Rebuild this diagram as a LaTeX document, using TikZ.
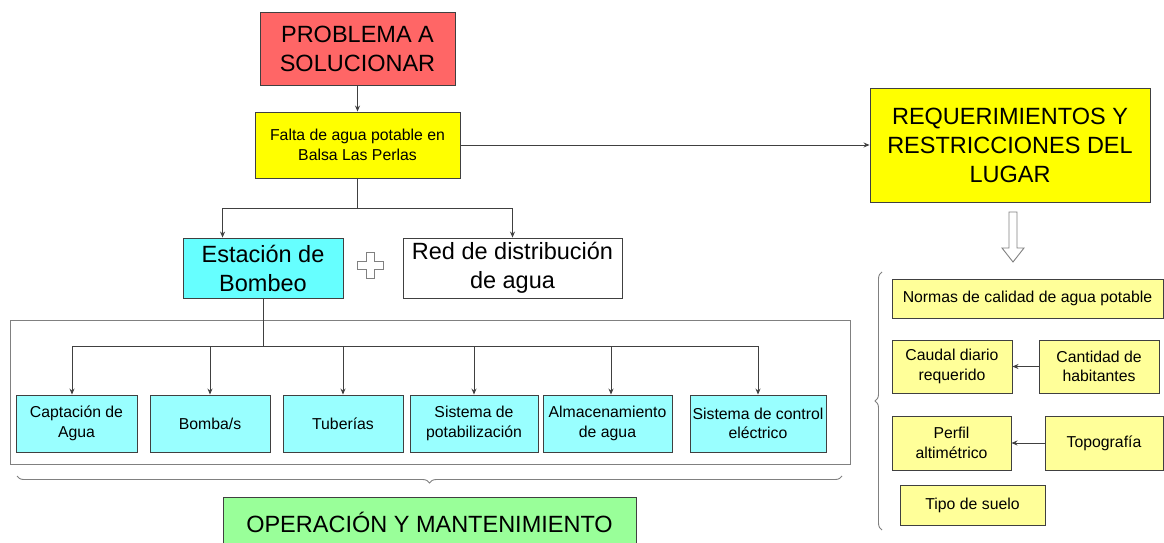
\documentclass[tikz,border=0pt]{standalone}
\usepackage{fontspec}
\setmainfont{Liberation Sans}
\usetikzlibrary{arrows.meta,decorations.pathreplacing,calc}
\definecolor{cRed}{HTML}{FF6666}
\definecolor{cYel}{HTML}{FFFF00}
\definecolor{cCyan}{HTML}{66FFFF}
\definecolor{cCyanL}{HTML}{99FFFF}
\definecolor{cYelL}{HTML}{FFFF99}
\definecolor{cGreen}{HTML}{99FF99}
\definecolor{cBorder}{HTML}{404040}
\definecolor{cLine}{HTML}{404040}
\definecolor{cFrame}{HTML}{808080}
\tikzset{
  box/.style={draw=cBorder, line width=0.9pt, inner sep=0pt, align=center, text=black},
  bigtxt/.style={font=\fontsize{23.5}{29}\selectfont},
  smalltxt/.style={font=\fontsize{15.8}{19.5}\selectfont},
  conn/.style={draw=cLine, line width=0.9pt},
  arr/.style={conn, -{Stealth[length=6pt,width=5pt]}},
  bracestyle/.style={draw=cFrame, line width=0.9pt, decorate},
}
\begin{document}
\begin{tikzpicture}[x=1pt,y=-1pt]
\useasboundingbox (0,0) rectangle (1164,543);
% frame
\node[draw=cFrame, line width=0.9pt, minimum width=840, minimum height=144, inner sep=0pt] (frame) at (430,392) {};
% main column
\node[box, bigtxt, fill=cRed, minimum width=195, minimum height=73] (prob) at (357.5,48.5) {PROBLEMA A\\SOLUCIONAR};
\node[box, smalltxt, fill=cYel, minimum width=205, minimum height=66] (falta) at (357.5,145) {Falta de agua potable en\\Balsa Las Perlas};
\node[box, bigtxt, fill=cCyan, minimum width=160, minimum height=60] (est) at (263,268) {Estación de\\Bombeo};
\node[box, bigtxt, fill=white, minimum width=219, minimum height=60] (red) at (512.5,268) {Red de distribución\\de agua};
\node[box, bigtxt, fill=cYel, minimum width=280, minimum height=114] (req) at (1010,145) {REQUERIMIENTOS Y\\RESTRICCIONES DEL\\LUGAR};
% right panel
\node[box, smalltxt, fill=cYelL, minimum width=271, minimum height=39] (normas) at (1027.5,298.5) {Normas de calidad de agua potable};
\node[box, smalltxt, fill=cYelL, minimum width=120, minimum height=53] (caudal) at (952,366.5) {Caudal diario\\requerido};
\node[box, smalltxt, fill=cYelL, minimum width=120, minimum height=53] (cant) at (1099,366.5) {Cantidad de\\habitantes};
\node[box, smalltxt, fill=cYelL, minimum width=119, minimum height=54] (perfil) at (951.5,443) {Perfil\\altimétrico};
\node[box, smalltxt, fill=cYelL, minimum width=118, minimum height=54] (topo) at (1104,443) {Topografía};
\node[box, smalltxt, fill=cYelL, minimum width=145, minimum height=40] (tipo) at (972.5,505) {Tipo de suelo};
% components
\node[box, smalltxt, fill=cCyanL, minimum width=121, minimum height=57] (c1) at (76.5,423.5) {Captación de\\Agua};
\node[box, smalltxt, fill=cCyanL, minimum width=120, minimum height=57] (c2) at (210,423.5) {Bomba/s};
\node[box, smalltxt, fill=cCyanL, minimum width=120, minimum height=57] (c3) at (343,423.5) {Tuberías};
\node[box, smalltxt, fill=cCyanL, minimum width=128, minimum height=57] (c4) at (474,423.5) {Sistema de\\potabilización};
\node[box, smalltxt, fill=cCyanL, minimum width=129, minimum height=57] (c5) at (607.5,423.5) {Almacenamiento\\de agua};
\node[box, smalltxt, fill=cCyanL, minimum width=136, minimum height=57] (c6) at (758,423.5) {Sistema de control\\eléctrico};
\node[box, bigtxt, fill=cGreen, minimum width=413, minimum height=50] (oper) at (429.5,522) {OPERACIÓN Y MANTENIMIENTO};
% connectors
\draw[arr] (prob.south) -- (falta.north);
\draw[conn] (falta.south) -- ++(0,30) coordinate (split);
\draw[arr] (split) -| ([xshift=40]est.north west);
\draw[arr] (split) -| (red.north);
\draw[arr] (falta.east) -- (req.west);
\draw[conn] (est.south) -- ++(0,48) coordinate (hub);
\draw[arr] (hub) -| ([xshift=-4.5]c1.north);
\draw[arr] (hub) -| (c2.north);
\draw[arr] (hub) -| (c3.north);
\draw[arr] (hub) -| (c4.north);
\draw[arr] (hub) -| ([xshift=3.5]c5.north);
\draw[arr] (hub) -| (c6.north);
\draw[arr] (cant.west) -- (caudal.east);
\draw[arr] (topo.west) -- (perfil.east);
% plus sign
\draw[cFrame, line width=0.9pt, fill=white] (366,252) -- (374,252) -- (374,261) -- (383,261) -- (383,269) -- (374,269) -- (374,278) -- (366,278) -- (366,269) -- (357,269) -- (357,261) -- (366,261) -- cycle;
% hollow arrow
\draw[cFrame, line width=0.9pt, fill=white] (1009,212) -- (1017,212) -- (1017,248) -- (1024,248) -- (1013,262) -- (1002,248) -- (1009,248) -- cycle;
% braces
\draw[bracestyle, decoration={brace, amplitude=7pt}] (882,530) -- (882,272);
\draw[bracestyle, decoration={brace, amplitude=7pt}] (842,476) -- (17,476);
\end{tikzpicture}
\end{document}
